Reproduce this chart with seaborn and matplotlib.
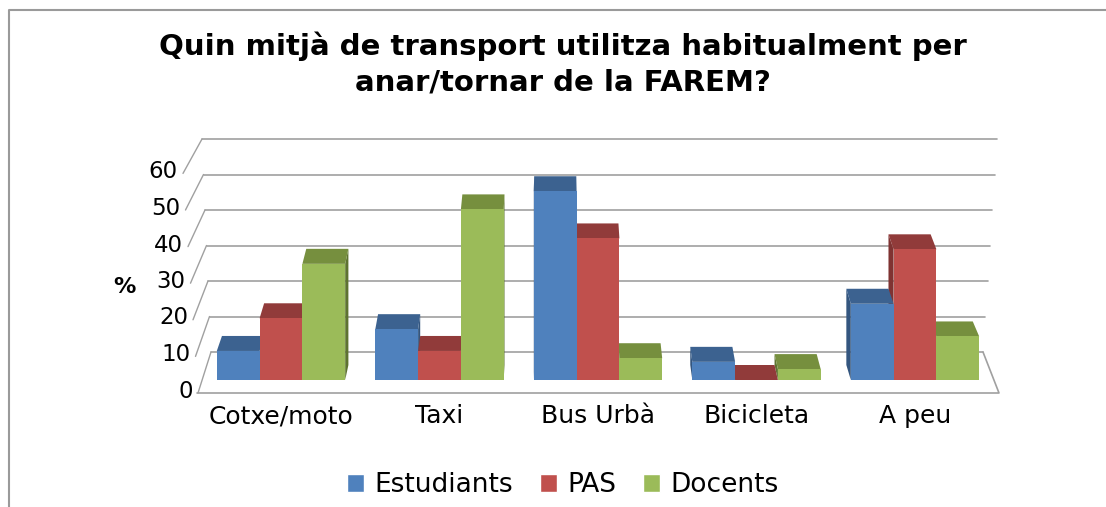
import matplotlib
matplotlib.use("Agg")
import matplotlib.pyplot as plt
from matplotlib.patches import Patch, Polygon
import numpy as np
import pandas as pd
import seaborn as sns

CATEGORIES = ["Cotxe/moto", "Taxi", "Bus Urbà", "Bicicleta", "A peu"]
GROUPS = ["Estudiants", "PAS", "Docents"]
ESTUDIANTS = [8, 14, 52, 5, 21]
PAS = [17, 8, 39, 0, 36]
DOCENTS = [32, 47, 6, 3, 12]
Y_TICKS = [0, 10, 20, 30, 40, 50, 60]

TITLE = "Quin mitjà de transport utilitza habitualment per\nanar/tornar de la FAREM?"

FRONT = {"Estudiants": "#4F81BD", "PAS": "#C0504D", "Docents": "#9BBB59"}
TOP = {"Estudiants": "#3C6290", "PAS": "#913B3A", "Docents": "#768F3E"}
SIDE = {"Estudiants": "#34567F", "PAS": "#7F3332", "Docents": "#5E7330"}
GRID = "#A0A0A0"

W, H, DPI = 1106, 507, 100

# 3D box geometry in pixels (y from top)
FLOOR_FRONT_Y, FLOOR_LEFT, FLOOR_RIGHT = 393, 197, 999
BAR_ZERO_Y, PX_PER_UNIT = 380, 3.63
CAT0_X, CAT_STEP = 281, 158.5
BACK_ZERO_Y, BACK_PX_PER_UNIT = 352, 3.55
BAR_DEPTH = 15


def back_left(v):
    return 211 - 0.15 * v


def back_right(v):
    return 983 + 0.233 * v


def depth_dx(px):
    # horizontal perspective shift of a bar's back edge
    return 0.42 * (13 - 29 * (px - FLOOR_LEFT) / (FLOOR_RIGHT - FLOOR_LEFT))


df = pd.DataFrame({
    "cat": CATEGORIES * 3,
    "group": np.repeat(GROUPS, len(CATEGORIES)),
    "value": ESTUDIANTS + PAS + DOCENTS,
})

sns.set_style("white")
plt.rcParams["font.family"] = ["DejaVu Sans"]
plt.rcParams["text.color"] = "black"
plt.rcParams["xtick.color"] = "black"

fig = plt.figure(figsize=(W / DPI, H / DPI), dpi=DPI)

# pixel overlay for the box, labels and depth faces
frame = fig.add_axes([0, 0, 1, 1], zorder=0)
frame.set_xlim(0, W)
frame.set_ylim(H, 0)
frame.axis("off")

ax = fig.add_axes([FLOOR_LEFT / W, (H - FLOOR_FRONT_Y) / H,
                   (FLOOR_RIGHT - FLOOR_LEFT) / W, (FLOOR_FRONT_Y - 130) / H], zorder=1)
sns.barplot(data=df, x="cat", y="value", hue="group", hue_order=GROUPS,
            palette=FRONT, width=0.81, saturation=1, linewidth=0, ax=ax,
            legend=False)
ax.set_xlim((FLOOR_LEFT - CAT0_X) / CAT_STEP, (FLOOR_RIGHT - CAT0_X) / CAT_STEP)
ax.set_ylim((BAR_ZERO_Y - FLOOR_FRONT_Y) / PX_PER_UNIT, (BAR_ZERO_Y - 130) / PX_PER_UNIT)
ax.patch.set_alpha(0)
for s in ax.spines.values():
    s.set_visible(False)
ax.set_yticks([])
ax.set_xlabel("")
ax.set_ylabel("")
ax.tick_params(axis="x", length=0, pad=8, labelsize=18, labelcolor="black")

# back wall gridlines and left wall
for v in Y_TICKS:
    yb = BACK_ZERO_Y - v * BACK_PX_PER_UNIT
    yf = FLOOR_FRONT_Y - v * 3.66
    xf = 198 - 0.25 * v
    frame.plot([back_left(v), back_right(v)], [yb, yb], color=GRID, lw=1.2, zorder=1)
    frame.plot([xf, back_left(v)], [yf, yb], color=GRID, lw=1.0, zorder=1)
    frame.text(xf - 5, FLOOR_FRONT_Y - 2 - v * 3.65, str(v), ha="right", va="center",
               fontsize=16.5, color="black")
# floor
frame.plot([FLOOR_LEFT, FLOOR_RIGHT, back_right(0)],
           [FLOOR_FRONT_Y, FLOOR_FRONT_Y, BACK_ZERO_Y], color=GRID, lw=1.2, zorder=1)

# top and side faces of every bar
for group, container in zip(GROUPS, ax.containers):
    for bar in container:
        x0, x1 = bar.get_x(), bar.get_x() + bar.get_width()
        h = bar.get_height()
        pts = ax.transData.transform([(x0, 0), (x1, 0), (x1, h), (x0, h)])
        (lx, by), (rx, _), _, (_, ty) = [(p[0], H - p[1]) for p in pts]
        dl, dr = depth_dx(lx), depth_dx(rx)
        top = [(lx, ty), (rx, ty), (rx + dr, ty - BAR_DEPTH), (lx + dl, ty - BAR_DEPTH)]
        frame.add_patch(Polygon(top, closed=True, fc=TOP[group], ec="none", zorder=3))
        if dr > 0:
            side = [(rx, by), (rx, ty), (rx + dr, ty - BAR_DEPTH), (rx + dr, by - BAR_DEPTH)]
        else:
            side = [(lx, by), (lx, ty), (lx + dl, ty - BAR_DEPTH), (lx + dl, by - BAR_DEPTH)]
        frame.add_patch(Polygon(side, closed=True, fc=SIDE[group], ec="none", zorder=2))

# chart border
frame.plot([9, 9, W], [H, 10, 10], color="#9A9A9A", lw=1.5, zorder=1)

frame.text(563, 64, TITLE, ha="center", va="center", fontsize=21,
           fontweight="bold", linespacing=1.35, color="black")
frame.text(124, 287, "%", ha="center", va="center", fontsize=16,
           fontweight="bold", color="black")

handles = [Patch(facecolor=FRONT[g], label=g) for g in GROUPS]
fig.legend(handles=handles, loc="center", bbox_to_anchor=(563 / W, 1 - 485 / H),
           ncol=3, frameon=False, fontsize=19, handlelength=0.65, handleheight=0.65,
           handletextpad=0.4, columnspacing=1.0, labelcolor="black")

fig.savefig("out.png", dpi=DPI)
